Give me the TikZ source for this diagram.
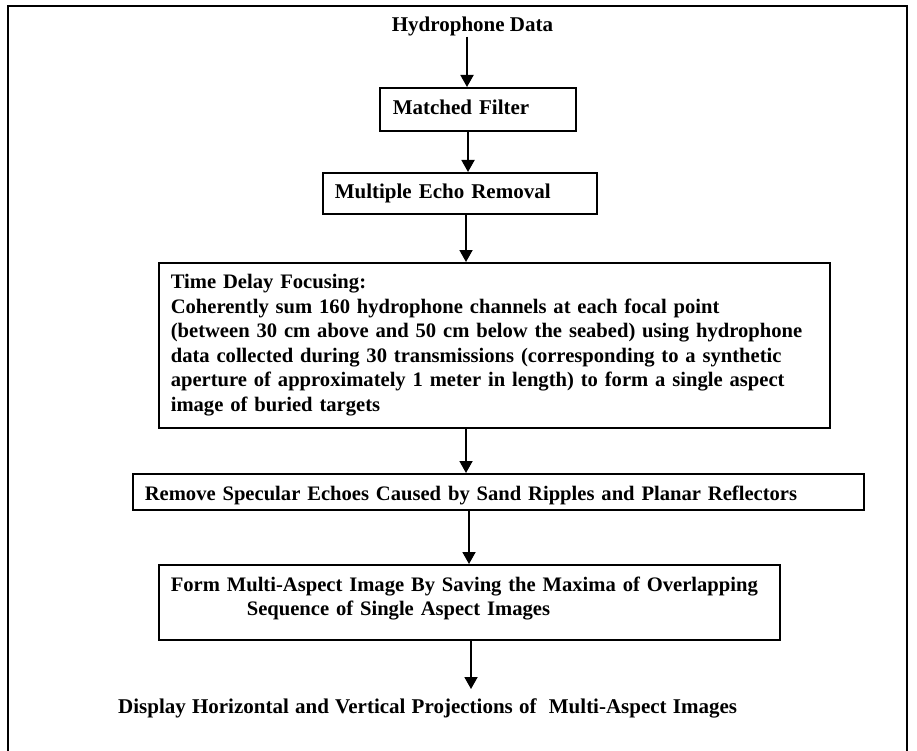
\documentclass[tikz,border=0pt]{standalone}
\usepackage{fontspec}
\setmainfont{Liberation Serif}
\usetikzlibrary{arrows.meta}
\newcommand\widesp{\spaceskip 6.2pt\relax}
\begin{document}
\begin{tikzpicture}[x=1pt,y=-1pt,
  every node/.style={font=\fontsize{21}{24.5}\selectfont\bfseries},
  box/.style={draw, line width=1.6pt, anchor=north west, align=left, inner xsep=12pt, inner ysep=0pt},
  small/.style={font=\fontsize{20.6}{24.5}\selectfont\bfseries},
  plain/.style={inner sep=0pt},
  arr/.style={line width=1.8pt, -{Triangle[width=13pt,length=12pt]}}]
\useasboundingbox (0,0) rectangle (917,751);
\draw[line width=1.6pt] (8,751) -- (8,6) -- (907,6) -- (907,751);

\node[plain, anchor=base] (hd) at (472.5,32) {Hydrophone Data};
\node[box, inner xsep=13pt, text width=170pt, minimum height=43pt, text height=13pt, text depth=2pt] (mf) at (379,87) {Matched Filter};
\node[box, text width=250pt, minimum height=41pt, text height=13pt, text depth=2pt] (me) at (322,172) {Multiple Echo Removal};
\node[box, small, text width=647pt, minimum height=165pt] (td) at (158,262) {\mbox{Time Delay Focusing:}\\
\mbox{Coherently sum 160 hydrophone channels at each focal point}\\
\mbox{(between 30 cm above and 50 cm below the seabed) using hydrophone}\\
\mbox{data collected during 30 transmissions (corresponding to a synthetic}\\
\mbox{aperture of approximately 1 meter in length) to form a single aspect}\\
\mbox{image of buried targets}};
\node[box, small, text width=707pt, minimum height=36pt, text height=18pt, text depth=0pt] (rs) at (132,473) {\mbox{Remove Specular Echoes Caused by Sand Ripples and Planar Reflectors}};
\node[box, small, text width=597pt, minimum height=75pt, text depth=36.7pt] (fm) at (158,564) {\mbox{Form Multi-Aspect Image By Saving the Maxima of Overlapping}\\
\hspace*{76pt}\mbox{Sequence of Single Aspect Images}};
\node[plain, anchor=base west, font=\fontsize{21}{24.5}\selectfont\bfseries\widesp] (disp) at (118,713) {Display Horizontal and Vertical Projections of\ \ Multi-Aspect Images};

\coordinate (a1) at (467,0);
\coordinate (a2) at (468,0);
\coordinate (a3) at (466,0);
\coordinate (a4) at (466,0);
\coordinate (a5) at (469,0);
\coordinate (a6) at (471,0);
\draw[arr] (hd.south -| a1) -- (mf.north -| a1);
\draw[arr] (mf.south -| a2) -- (me.north -| a2);
\draw[arr] (me.south -| a3) -- (td.north -| a3);
\draw[arr] (td.south -| a4) -- (rs.north -| a4);
\draw[arr] (rs.south -| a5) -- (fm.north -| a5);
\draw[arr, shorten >=9pt] (fm.south -| a6) -- (disp.north -| a6);
\end{tikzpicture}
\end{document}
